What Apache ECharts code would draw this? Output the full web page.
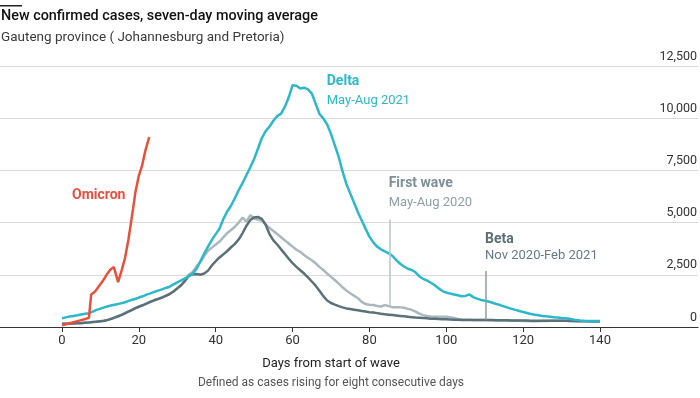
<!DOCTYPE html>
<html>
<head>
<meta charset="utf-8">
<script src="https://cdn.jsdelivr.net/npm/echarts@6/dist/echarts.min.js"></script>
<style>
  html, body { margin: 0; padding: 0; background: #fff; }
  #main { width: 700px; height: 398px; }
</style>
</head>
<body>
<div id="main"></div>
<script>
// days since start of each wave, seven-day moving average of new cases
var omicron = [80, 130, 180, 230, 280, 330, 380, 440, 1560, 1700, 1950, 2200, 2500, 2750, 2870, 2150,
    2700, 3300, 4200, 5300, 6450, 7250, 7700, 8450, 9100];
var omicronDays = [0, 1, 2, 3, 4, 5, 6, 7, 7.6, 8.6, 9.6, 10.6, 11.6, 12.6, 13.5, 14.6,
    15.5, 16.4, 17.3, 18.2, 19.1, 20, 20.8, 21.7, 22.7];

var delta = [420, 460, 500, 530, 560, 600, 630, 660, 740, 820, 880, 940, 990, 1040, 1080, 1120,
    1160, 1230, 1290, 1340, 1410, 1470, 1550, 1610, 1680, 1740, 1800, 1870, 1930, 2040,
    2140, 2230, 2330, 2420, 2560, 2780, 3150, 3520, 3850, 4170, 4450, 4720, 5180, 5530,
    5820, 6180, 6560, 6900, 7280, 7650, 8050, 8550, 9050, 9380, 9600, 9880, 10100, 10220,
    10550, 11000, 11580, 11550, 11420, 11460, 11380, 11180, 10700, 10200, 9990, 9700, 9250,
    8700, 8150, 7450, 6850, 6400, 5950, 5500, 5100, 4700, 4330, 4050, 3850, 3720, 3620,
    3530, 3400, 3200, 3030, 2900, 2790, 2730, 2620, 2420, 2300, 2220, 2120, 2000, 1850,
    1720, 1650, 1600, 1560, 1520, 1470, 1490, 1560, 1430, 1360, 1300, 1260, 1220, 1160,
    1100, 1050, 990, 930, 870, 820, 770, 720, 670, 620, 590, 560, 530, 510, 495, 470, 450,
    430, 415, 390, 360, 330, 305, 295, 290, 290, 290, 290];

var firstWave = [150, 160, 170, 180, 190, 205, 215, 225, 240, 260, 280, 300, 350, 410, 470, 540,
    630, 720, 810, 900, 980, 1050, 1130, 1210, 1280, 1350, 1420, 1500, 1580, 1700, 1850,
    2000, 2250, 2500, 2640, 2900, 3100, 3400, 3650, 3800, 3950, 4090, 4300, 4500, 4650,
    4800, 5000, 5240, 5050, 5360, 5200, 5150, 5080, 4900, 4740, 4600, 4450, 4300, 4150,
    4000, 3850, 3700, 3600, 3450, 3320, 3200, 3050, 2880, 2730, 2560, 2400, 2250, 2080,
    1900, 1750, 1620, 1500, 1380, 1200, 1100, 1070, 1050, 1010, 980, 1050, 1000, 950, 950,
    940, 920, 870, 820, 740, 640, 570, 530, 500, 495, 495, 495, 490, 470, 430, 380, 360,
    350, 345, 340, 335, 335, 330, 325, 320, 315, 310, 310, 305, 300, 300, 295, 290, 285,
    280, 280, 280, 285, 290, 295, 300, 305, 305, 300, 295, 290, 285, 280, 270, 260, 255,
    250, 250];

var beta = [150, 155, 160, 165, 175, 185, 200, 215, 235, 255, 280, 300, 340, 400, 470, 540, 620,
    710, 800, 890, 970, 1040, 1120, 1200, 1280, 1340, 1410, 1490, 1580, 1700, 1850, 2000,
    2200, 2450, 2530, 2540, 2500, 2560, 2700, 2950, 3150, 3330, 3480, 3640, 3820, 3980,
    4200, 4500, 4850, 5120, 5250, 5270, 5180, 4900, 4450, 4150, 3950, 3720, 3500, 3270,
    3060, 2880, 2720, 2560, 2380, 2180, 1980, 1740, 1480, 1270, 1150, 1070, 1000, 940, 890,
    860, 830, 800, 770, 740, 710, 690, 665, 630, 610, 590, 570, 550, 530, 510, 490, 470,
    450, 440, 430, 420, 400, 390, 380, 375, 370, 360, 350, 345, 340, 335, 335, 335, 335,
    335, 335, 330, 330, 325, 325, 320, 320, 315, 315, 310, 310, 310, 305, 305, 300, 300,
    300, 300, 300, 300, 300, 295, 290, 285, 280, 275, 270, 270, 270, 270, 270];

var xTicks = [0, 20, 40, 60, 80, 100, 120, 140];
var yTicks = [0, 2500, 5000, 7500, 10000, 12500];

var FONT = 'Roboto';
var C_OMI = '#e8503a', C_DELTA = '#2cb8c8', C_FIRST = '#aab8bd', C_BETA = '#5c7079';

function pairs(values, days) {
    return values.map(function (v, i) { return [days ? days[i] : i, v]; });
}

function note(coord, text, color, bold) {
    return {
        coord: coord,
        symbolSize: 0,
        label: {
            show: true, position: 'right', distance: 0, formatter: text,
            color: color, fontFamily: FONT, fontSize: bold ? 14 : 13,
            fontWeight: bold ? 'bold' : 'normal'
        }
    };
}

var myChart = echarts.init(document.getElementById('main'));

var lineBase = {
    type: 'line', showSymbol: false, symbol: 'none', xAxisIndex: 1, yAxisIndex: 1,
    smooth: false, silent: true
};

var option = {
    animation: false,
    backgroundColor: '#fff',
    textStyle: { fontFamily: FONT },
    title: [
        {
            text: 'New confirmed cases, seven-day moving average', left: 1, top: 9, padding: 0,
            textStyle: { fontFamily: FONT, fontSize: 14.4, fontWeight: 500, color: '#111' }
        },
        {
            text: 'Gauteng province ( Johannesburg and Pretoria)', left: 1, top: 31, padding: 0,
            textStyle: { fontFamily: FONT, fontSize: 13.5, fontWeight: 'normal', color: '#3a3a3a' }
        }
    ],
    graphic: [
        { type: 'rect', left: 0, top: 5, shape: { width: 22, height: 1.5 }, style: { fill: '#222' } }
    ],
    grid: [
        { left: 0, right: 0, top: 66, bottom: 71 },
        { left: 62, right: 100, top: 66, bottom: 71 }
    ],
    xAxis: [
        {
            gridIndex: 0, type: 'value', min: 0, max: 1,
            axisLine: { show: true, lineStyle: { color: '#333', width: 1 } },
            axisTick: { show: false }, axisLabel: { show: false }, splitLine: { show: false }
        },
        {
            gridIndex: 1, type: 'value', min: xTicks[0], max: xTicks[xTicks.length - 1], interval: 20,
            axisLine: { show: false },
            axisTick: { show: true, length: 5, lineStyle: { color: '#333' } },
            axisLabel: { color: '#333', fontSize: 13, margin: 7, fontFamily: FONT },
            splitLine: { show: false },
            name: '{a|Days from start of wave}\n{b|Defined as cases rising for eight consecutive days}',
            nameLocation: 'middle', nameGap: 27,
            nameTextStyle: {
                rich: {
                    a: { fontFamily: FONT, fontSize: 13, color: '#222', lineHeight: 19, align: 'center' },
                    b: { fontFamily: FONT, fontSize: 12, color: '#555', lineHeight: 19, align: 'center' }
                }
            }
        }
    ],
    yAxis: [
        {
            gridIndex: 0, type: 'value', min: yTicks[0], max: yTicks[yTicks.length - 1], interval: 2500,
            position: 'right',
            axisLine: { show: false }, axisTick: { show: false },
            axisLabel: {
                inside: true, margin: 1, verticalAlign: 'bottom', color: '#333', fontSize: 12.5,
                fontFamily: FONT, padding: [0, 0, 3, 0],
                formatter: function (v) { return v.toLocaleString('en-US'); }
            },
            splitLine: { lineStyle: { color: '#d9d9d9', width: 1 } }
        },
        {
            gridIndex: 1, type: 'value', min: yTicks[0], max: yTicks[yTicks.length - 1], show: false
        }
    ],
    series: [
        Object.assign({}, lineBase, {
            name: 'First wave', data: pairs(firstWave), z: 2,
            lineStyle: { color: C_FIRST, width: 2.5 },
            markLine: {
                silent: true, symbol: 'none', animation: false,
                lineStyle: { color: '#b9c4c9', width: 1.5, type: 'solid' }, label: { show: false },
                data: [[{ coord: [85.4, 5150] }, { coord: [85.4, 1000] }]]
            },
            markPoint: {
                silent: true,
                data: [
                    note([85.0, 6850], 'First wave', '#7d909a', true),
                    note([85.0, 5940], 'May-Aug 2020', '#8d9fa7', false)
                ]
            }
        }),
        Object.assign({}, lineBase, {
            name: 'Beta', data: pairs(beta), z: 3,
            lineStyle: { color: C_BETA, width: 2.5 },
            markLine: {
                silent: true, symbol: 'none', animation: false,
                lineStyle: { color: '#8c9ca4', width: 1.5, type: 'solid' }, label: { show: false },
                data: [[{ coord: [110.3, 2680] }, { coord: [110.3, 360] }]]
            },
            markPoint: {
                silent: true,
                data: [
                    note([110.1, 4170], 'Beta', '#5c6f78', true),
                    note([110.1, 3400], 'Nov 2020-Feb 2021', '#667a84', false)
                ]
            }
        }),
        Object.assign({}, lineBase, {
            name: 'Delta', data: pairs(delta), z: 4,
            lineStyle: { color: C_DELTA, width: 2.5 },
            markPoint: {
                silent: true,
                data: [
                    note([68.9, 11735], 'Delta', C_DELTA, true),
                    note([68.9, 10825], 'May-Aug 2021', C_DELTA, false)
                ]
            }
        }),
        Object.assign({}, lineBase, {
            name: 'Omicron', data: pairs(omicron, omicronDays), z: 5,
            lineStyle: { color: C_OMI, width: 2.5 },
            markPoint: {
                silent: true,
                data: [note([2.6, 6320], 'Omicron', C_OMI, true)]
            }
        })
    ]
};

myChart.setOption(option);
</script>
</body>
</html>
